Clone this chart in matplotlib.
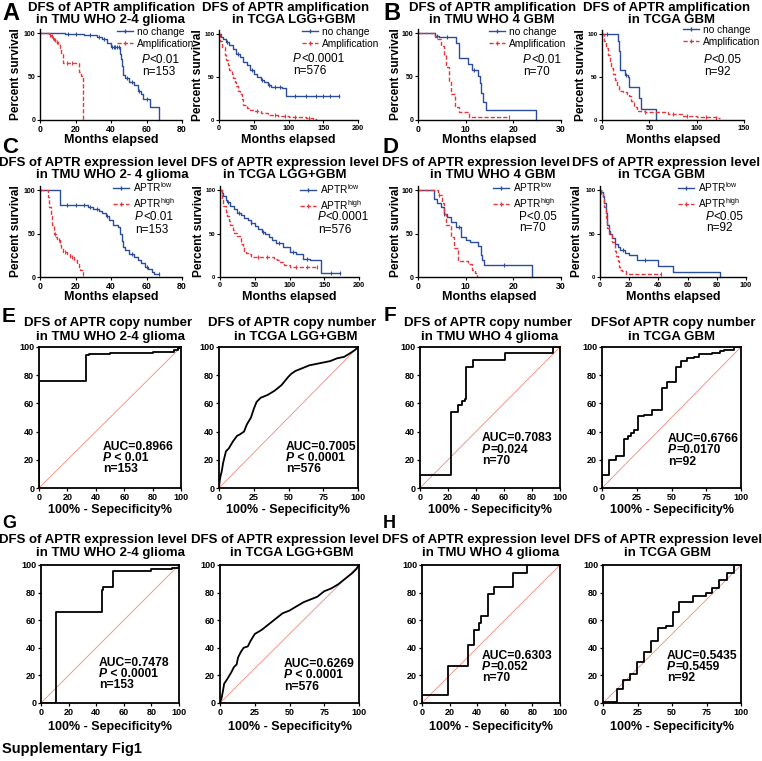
import numpy as np
import matplotlib
matplotlib.use('Agg')
import matplotlib.pyplot as plt
import matplotlib.transforms as mtransforms
from matplotlib.lines import Line2D

plt.rcParams['font.family'] = ['Liberation Sans', 'DejaVu Sans']
plt.rcParams['mathtext.fontset'] = 'custom'
plt.rcParams['mathtext.rm'] = 'Liberation Sans'
plt.rcParams['mathtext.it'] = 'Liberation Sans:italic'
plt.rcParams['mathtext.bf'] = 'Liberation Sans:bold'
plt.rcParams['mathtext.default'] = 'regular'

BLUE = '#2c4d9a'
RED = '#e8363c'

# ---- Kaplan-Meier data (months, percent survival) ----
# A: amplification, TMU WHO 2-4 glioma
A1_nc_t = [0, 14, 25, 32, 35, 38, 40, 45, 45.5, 46, 47, 48, 50, 53, 55, 57, 58, 62, 67]
A1_nc_s = [100, 99, 98, 95, 93, 88, 84, 76, 70, 62, 52, 48, 44, 40, 33, 30, 24, 15, 0]
A1_nc_c = [16, 20, 28, 33, 36, 40.5, 41.5, 42.5, 43.5, 44.5, 49, 52, 56, 60]
A1_amp_t = [0, 5, 6, 7, 8, 9, 10, 11, 12, 13, 22, 23, 24.5]
A1_amp_s = [100, 98, 96, 94, 92, 90, 87, 83, 77, 65, 55, 50, 0]
A1_amp_c = [5.5, 6.5, 7.5, 8.5, 9.5, 15, 18]
# A: amplification, TCGA LGG+GBM
A2_nc_t = [0, 3, 6, 10, 15, 20, 25, 30, 35, 40, 45, 50, 55, 60, 65, 70, 75, 85, 90, 97, 172]
A2_nc_s = [100, 97, 94, 91, 87, 82, 77, 73, 68, 64, 58, 53, 50, 47, 44, 41, 38, 38, 37, 28, 28]
A2_nc_c = [12, 28, 48, 62, 72, 80, 88, 110, 125, 140, 150, 160, 172]
A2_amp_t = [0, 2, 5, 8, 10, 13, 15, 18, 20, 23, 25, 28, 30, 33, 35, 40, 45, 50, 60, 70, 85, 100, 115, 125, 135, 140]
A2_amp_s = [100, 92, 85, 76, 70, 64, 58, 53, 49, 44, 40, 34, 30, 24, 18, 14, 12, 10, 8, 6, 5, 4, 3, 2, 1, 0]
A2_amp_c = [55, 80, 95, 110, 130]
# B: amplification, TMU WHO 4 GBM
B1_nc_t = [0, 3.5, 4.5, 8, 8.7, 10.5, 11.3, 12.5, 13, 13.3, 13.6, 14.2, 24.8]
B1_nc_s = [100, 97, 95, 88, 71, 64, 58, 50, 42, 31, 21, 11, 0]
B1_nc_c = [4, 6, 11.8]
B1_amp_t = [0, 3.5, 4, 4.9, 5.4, 5.9, 6.4, 7, 7.7, 8.5, 10.8, 19]
B1_amp_s = [100, 95, 93, 85, 75, 61, 45, 30, 15, 9, 4, 4]
B1_amp_c = [19]
# B: amplification, TCGA GBM
B2_nc_t = [0, 16.8, 18, 19.5, 24, 27, 29, 39.5, 41.5, 57]
B2_nc_s = [100, 92, 80, 58, 52, 50, 38, 25, 13, 0]
B2_nc_c = [5, 25]
B2_amp_t = [0, 2, 4, 6, 8, 10, 12, 14, 16, 18, 22, 26, 28, 31, 34, 37, 45, 65, 70, 85, 100, 120, 125]
B2_amp_s = [100, 92, 84, 76, 69, 60, 53, 46, 40, 34, 32, 30, 28, 22, 15, 10, 9, 9, 7, 5, 3.5, 2.5, 2.5]
B2_amp_c = [45, 75, 90, 110, 120]
# C: expression, TMU WHO 2-4 glioma
C1_lo_t = [0, 11, 27, 30, 33, 35, 37, 39, 41, 44, 45, 46, 47, 48, 50, 53, 55, 57, 59, 61, 63, 64, 67]
C1_lo_s = [100, 83, 80, 78, 76, 73, 70, 65, 60, 57, 50, 41, 34, 31, 27, 23, 19, 16, 12, 9, 6, 4, 4]
C1_lo_c = [15, 20, 25, 28, 32, 38, 52, 60, 67]
C1_hi_t = [0, 4.5, 5, 6, 6.6, 7.9, 9, 9.8, 11, 12, 13.2, 15, 17, 19, 20.7, 22, 22.6, 24]
C1_hi_s = [100, 92, 80, 70, 60, 49, 46, 43, 37, 33, 29, 26, 23, 19, 15, 11, 8, 4]
C1_hi_c = [8.5, 10.5, 14, 18, 24]
# C: expression, TCGA LGG+GBM
C2_lo_t = [0, 3, 5, 8, 10, 15, 20, 25, 30, 35, 40, 45, 50, 55, 60, 65, 70, 75, 80, 90, 100, 110, 120, 130, 145, 172]
C2_lo_s = [100, 96, 93, 89, 86, 82, 78, 74, 71, 68, 66, 62, 59, 55, 52, 49, 46, 42, 39, 35, 29, 26, 21, 19, 5, 5]
C2_lo_c = [12, 28, 45, 62, 85, 105, 125, 160, 172]
C2_hi_t = [0, 3, 5, 8, 10, 13, 15, 18, 20, 25, 30, 33, 35, 38, 41, 45, 75, 78, 82, 86, 92, 100, 140]
C2_hi_s = [100, 88, 82, 75, 70, 64, 60, 54, 51, 47, 38, 34, 30, 28, 27, 23, 23, 21, 19, 17, 14, 12, 12]
C2_hi_c = [55, 68, 110, 125, 140]
# D: expression, TMU WHO 4 GBM
D1_lo_t = [0, 3.4, 4, 4.8, 5.4, 6, 7, 7.9, 9, 10, 11, 12.5, 13.2, 13.5, 13.9, 24]
D1_lo_s = [100, 90, 85, 80, 72, 69, 63, 58, 46, 43, 40, 36, 25, 20, 14, 0]
D1_lo_c = [5.5, 8.5, 18]
D1_hi_t = [0, 4.3, 5, 5.5, 5.8, 6.9, 7.5, 8.3, 10.5, 11.3, 12, 12.4]
D1_hi_s = [100, 94, 85, 72, 60, 46, 33, 18, 15, 8, 5, 0]
D1_hi_c = [4.5]
# D: expression, TCGA GBM
D2_lo_t = [0, 1, 2, 3, 4, 5, 6, 7, 8, 10, 12, 14, 17, 20, 25, 40, 50, 82]
D2_lo_s = [100, 98, 93, 85, 74, 60, 53, 49, 45, 38, 35, 31, 28, 25, 20, 13, 6, 0]
D2_lo_c = [1, 16, 31]
D2_hi_t = [0, 1, 2, 3, 4, 5, 6, 8, 10, 11, 12, 13, 14, 15, 18, 42]
D2_hi_s = [100, 96, 90, 80, 68, 56, 50, 40, 30, 24, 18, 12, 8, 7, 4, 4]
D2_hi_c = [42]

# ---- ROC data (100% - specificity, sensitivity) ----
E1_fpr = [0, 0, 33, 35, 50, 60, 80, 95, 98, 100]
E1_tpr = [0, 76, 94, 95, 95.5, 96, 96.5, 98, 99, 100]
E2_fpr = [0, 0.5, 1, 2, 3, 4, 5, 7, 10, 13, 15, 18, 20, 23, 25, 27, 30, 35, 40, 45, 50, 52, 55, 60, 65, 70, 75, 80, 85, 90, 95, 98, 100]
E2_tpr = [0, 5, 8, 12, 18, 22, 26, 28, 33, 37, 38, 40, 45, 50, 56, 61, 64, 66, 69, 73, 79, 81, 83, 85, 87, 88, 89, 90, 92, 93, 96, 98, 100]
F1_fpr = [0, 0, 22, 27, 30, 32, 33, 38, 61, 95, 100]
F1_tpr = [0, 9, 54, 59, 62, 63, 86, 91, 95.5, 100, 100]
F2_fpr = [0, 0, 5, 10, 16, 19, 21, 23, 26, 30, 36, 43, 47, 53, 57, 61, 66, 70, 79, 85, 88, 95, 100]
F2_tpr = [0, 9, 20, 23, 35, 37, 39, 41, 51, 52, 55, 71, 75, 86, 90, 92, 93, 95, 96, 97, 98, 100, 100]
G1_fpr = [0, 11, 44, 45, 52, 80, 95, 100]
G1_tpr = [0, 66, 82, 84, 96, 97, 98, 100]
G2_fpr = [0, 1, 2, 3, 5, 8, 10, 12, 13, 15, 17, 20, 22, 25, 30, 35, 40, 45, 50, 55, 60, 65, 70, 75, 80, 85, 90, 95, 98, 100]
G2_tpr = [0, 3, 8, 14, 17, 22, 26, 28, 33, 37, 40, 41, 45, 50, 53, 57, 61, 65, 67, 70, 73, 75, 77, 81, 83, 86, 90, 94, 97, 100]
H1_fpr = [0, 0, 19, 33, 38, 41, 43, 48, 52, 66, 76, 100]
H1_tpr = [0, 5.5, 26.5, 42, 53, 58, 63, 79, 84, 94.5, 100, 100]
H2_fpr = [0, 0, 10.4, 14.7, 19.3, 24.8, 29.6, 35, 40, 45.3, 50.6, 55, 65, 74.7, 78.8, 84.3, 90, 95.2, 100]
H2_tpr = [0, 1, 10.4, 16.4, 21, 29.4, 37.3, 44.6, 54.2, 56, 66.3, 73, 77.6, 79.5, 83, 89, 94, 100, 100]

amp_labels = ['no change', 'Amplification']
expr_labels = ['APTR$^{low}$', 'APTR$^{high}$']

W, H = 762, 761
fig = plt.figure(figsize=(W / 100, H / 100), dpi=100)


def fx(x):
    return x / W


def fy(y):
    return 1 - y / H


def bold_ticks(ax):
    for lab in ax.get_xticklabels() + ax.get_yticklabels():
        lab.set_fontweight('bold')


def km_axes(x0, x1, y100, y0, xmax, xticks, xts, yts, ylab_x, xlab_y):
    ytop = y0 - (y0 - y100) * 1.05
    ax = fig.add_axes([fx(x0), fy(y0), (x1 - x0) / W, (y0 - ytop) / H])
    ax.set_xlim(0, xmax)
    ax.set_ylim(0, 105)
    ax.set_xticks(xticks)
    ax.set_yticks([0, 50, 100])
    for s in ['top', 'right']:
        ax.spines[s].set_visible(False)
    for s in ['left', 'bottom']:
        ax.spines[s].set_linewidth(1.0)
    ax.tick_params(direction='out', length=2.5, width=0.8, pad=0.8)
    ax.tick_params(axis='x', labelsize=xts)
    ax.tick_params(axis='y', labelsize=yts)
    bold_ticks(ax)
    ax.set_xlabel('Months elapsed', fontsize=9, fontweight='bold', va='center')
    ax.xaxis.set_label_coords(0.5, fy(xlab_y),
                              transform=mtransforms.blended_transform_factory(ax.transAxes, fig.transFigure))
    ax.set_ylabel('Percent survival', fontsize=8.6, fontweight='bold', va='center')
    ax.yaxis.set_label_coords(fx(ylab_x), 0.5,
                              transform=mtransforms.blended_transform_factory(fig.transFigure, ax.transAxes))
    return ax


def km_curve(ax, t, s, cens, color, dashed):
    ls = (0, (3, 1.5)) if dashed else '-'
    ax.step(t, s, where='post', color=color, lw=1.0, ls=ls, clip_on=False)
    t = np.asarray(t)
    s = np.asarray(s)
    idx = np.searchsorted(t, cens, side='right') - 1
    ax.plot(cens, s[idx], ls='none', marker='|', ms=3, mew=0.8, color=color, clip_on=False)


def km_legend(ax, x, y, labels):
    handles = [Line2D([], [], color=BLUE, lw=1, marker='|', ms=3),
               Line2D([], [], color=RED, lw=1, ls=(0, (3, 1.5)), marker='|', ms=3)]
    ax.legend(handles, labels, loc='upper left', bbox_to_anchor=(fx(x), fy(y)),
              bbox_transform=fig.transFigure, frameon=False, fontsize=7.3,
              handlelength=1.6, handletextpad=0.35, borderpad=0, borderaxespad=0,
              labelspacing=0.2)


def p_text(ax, x, y, rest, size, bold=False, italic=True):
    w = 'bold' if bold else 'normal'
    if italic:
        t1 = fig.text(fx(x), fy(y), 'P', fontsize=size, fontweight=w, fontstyle='italic',
                      va='center', ha='left')
        ax.annotate(rest, xy=(1, 0.5), xycoords=t1, fontsize=size, fontweight=w,
                    va='center', ha='left')
    else:
        fig.text(fx(x), fy(y), 'P' + rest, fontsize=size, fontweight=w, va='center', ha='left')


def n_text(x, y, s, size, bold=False):
    fig.text(fx(x), fy(y), s, fontsize=size, fontweight='bold' if bold else 'normal',
             va='center', ha='left')


def roc_axes(x0, x1, y100, y0, xticks, xlab_y):
    ax = fig.add_axes([fx(x0), fy(y0), (x1 - x0) / W, (y0 - y100) / H])
    ax.set_xlim(0, 100)
    ax.set_ylim(0, 100)
    ax.set_xticks(xticks)
    ax.set_yticks([0, 20, 40, 60, 80, 100])
    for s in ax.spines.values():
        s.set_linewidth(1.3)
    ax.plot([0, 100], [0, 100], color='#f08a7c', lw=0.6)
    ax.tick_params(direction='out', length=2.5, width=0.9, pad=1, labelsize=6.5)
    bold_ticks(ax)
    ax.set_xlabel('100% - Sepecificity%', fontsize=9, fontweight='bold', va='center')
    ax.xaxis.set_label_coords(0.5, fy(xlab_y),
                              transform=mtransforms.blended_transform_factory(ax.transAxes, fig.transFigure))
    return ax


def title(cx1, cx2, y1, y2, line1, line2):
    fig.text(fx(cx1), fy(y1), line1, ha='center', va='center', fontsize=9.5, fontweight='bold')
    fig.text(fx(cx2), fy(y2), line2, ha='center', va='center', fontsize=9.5, fontweight='bold')


# ---------------- Row A / B ----------------
ax = km_axes(40, 182, 33, 120, 80, [0, 20, 40, 60, 80], 6.3, 5, 16, 140)
km_curve(ax, A1_nc_t, A1_nc_s, A1_nc_c, BLUE, False)
km_curve(ax, A1_amp_t, A1_amp_s, A1_amp_c, RED, True)
km_legend(ax, 117, 27, amp_labels)
p_text(ax, 142, 60, '<0.01', 8.5)
n_text(142, 72, 'n=153', 8.5)
title(112, 110, 8, 20, 'DFS of APTR amplification', 'in TMU WHO 2-4 glioma')

ax = km_axes(219, 358, 34, 120, 200, [0, 50, 100, 150, 200], 5.3, 4.3, 198, 140)
km_curve(ax, A2_nc_t, A2_nc_s, A2_nc_c, BLUE, False)
km_curve(ax, A2_amp_t, A2_amp_s, A2_amp_c, RED, True)
km_legend(ax, 302, 27, amp_labels)
p_text(ax, 293, 59, '<0.0001', 8.5)
n_text(293, 71, 'n=576', 8.5)
title(286, 294, 8, 20, 'DFS of APTR amplification', 'in TCGA LGG+GBM')

ax = km_axes(418, 561, 33, 120, 30, [0, 10, 20, 30], 6.3, 5, 396, 140)
km_curve(ax, B1_nc_t, B1_nc_s, B1_nc_c, BLUE, False)
km_curve(ax, B1_amp_t, B1_amp_s, B1_amp_c, RED, True)
km_legend(ax, 489, 27, amp_labels)
p_text(ax, 523, 60, '<0.01', 8.5)
n_text(523, 72, 'n=70', 8.5)
title(493, 492, 8, 20, 'DFS of APTR amplification', 'in TMU WHO 4 GBM')

ax = km_axes(602, 744, 34, 120, 150, [0, 50, 100, 150], 5.3, 4.3, 581, 140)
km_curve(ax, B2_nc_t, B2_nc_s, B2_nc_c, BLUE, False)
km_curve(ax, B2_amp_t, B2_amp_s, B2_amp_c, RED, True)
km_legend(ax, 683, 25, amp_labels)
p_text(ax, 704, 60, '<0.05', 8.5)
n_text(704, 72, 'n=92', 8.5)
title(667, 671, 8, 20, 'DFS of APTR amplification', 'in TCGA GBM')

# ---------------- Row C / D ----------------
ax = km_axes(40, 182, 190, 277, 80, [0, 20, 40, 60, 80], 6.3, 5, 16, 297)
km_curve(ax, C1_lo_t, C1_lo_s, C1_lo_c, BLUE, False)
km_curve(ax, C1_hi_t, C1_hi_s, C1_hi_c, RED, True)
km_legend(ax, 113, 180, expr_labels)
p_text(ax, 135, 217, '<0.01', 8.5)
n_text(135, 230, 'n=153', 8.5)
title(93, 112, 163, 175, 'DFS of APTR expression level', 'in TMU WHO 2- 4 glioma')

ax = km_axes(220, 359, 190, 277, 200, [0, 50, 100, 150, 200], 5.3, 4.3, 199, 297)
km_curve(ax, C2_lo_t, C2_lo_s, C2_lo_c, BLUE, False)
km_curve(ax, C2_hi_t, C2_hi_s, C2_hi_c, RED, True)
km_legend(ax, 300, 182, expr_labels)
p_text(ax, 318, 217, '<0.0001', 8.5)
n_text(318, 230, 'n=576', 8.5)
title(285, 285, 163, 175, 'DFS of APTR expression level', 'in TCGA LGG+GBM')

ax = km_axes(418, 561, 190, 277, 30, [0, 10, 20, 30], 6.3, 5, 396, 297)
km_curve(ax, D1_lo_t, D1_lo_s, D1_lo_c, BLUE, False)
km_curve(ax, D1_hi_t, D1_hi_s, D1_hi_c, RED, True)
km_legend(ax, 493, 180, expr_labels)
p_text(ax, 519, 217, '<0.05', 8.5, italic=False)
n_text(519, 228, 'n=70', 8.5)
title(476, 493, 163, 175, 'DFS of APTR expression level', 'in TMU WHO 4 GBM')

ax = km_axes(600, 746, 190, 277, 100, [0, 20, 40, 60, 80, 100], 5.3, 4.3, 577, 297)
km_curve(ax, D2_lo_t, D2_lo_s, D2_lo_c, BLUE, False)
km_curve(ax, D2_hi_t, D2_hi_s, D2_hi_c, RED, True)
km_legend(ax, 678, 180, expr_labels)
p_text(ax, 706, 217, '<0.05', 8.5)
n_text(706, 228, 'n=92', 8.5)
title(666, 661, 163, 175, 'DFS of APTR expression level', 'in TCGA GBM')

# ---------------- Row E / F ----------------
ax = roc_axes(39, 181, 347, 488, [0, 20, 40, 60, 80, 100], 510)
ax.plot(E1_fpr, E1_tpr, color='black', lw=1.3, drawstyle='steps-post')
n_text(103, 447, 'AUC=0.8966', 8.7, True)
p_text(ax, 103, 458, ' < 0.01', 8.7, bold=True)
n_text(103, 469, 'n=153', 8.7, True)
title(108, 110, 323, 337, 'DFS of APTR copy number', 'in TMU WHO 2-4 glioma')

ax = roc_axes(219, 358, 347, 488, [0, 25, 50, 75, 100], 510)
ax.plot(E2_fpr, E2_tpr, color='black', lw=1.3)
n_text(286, 447, 'AUC=0.7005', 8.7, True)
p_text(ax, 286, 458, ' < 0.0001', 8.7, bold=True)
n_text(286, 469, 'n=576', 8.7, True)
title(292, 296, 323, 337, 'DFS of APTR copy number', 'in TCGA LGG+GBM')

ax = roc_axes(420, 560, 347, 488, [0, 20, 40, 60, 80, 100], 510)
ax.plot(F1_fpr, F1_tpr, color='black', lw=1.3, drawstyle='steps-post')
n_text(482, 438, 'AUC=0.7083', 8.7, True)
p_text(ax, 482, 450, '=0.024', 8.7, bold=True)
n_text(482, 461, 'n=70', 8.7, True)
title(488, 490, 323, 337, 'DFS of APTR copy number', 'in TMU WHO 4 glioma')

ax = roc_axes(602, 741, 347, 488, [0, 25, 50, 75, 100], 510)
ax.plot(F2_fpr, F2_tpr, color='black', lw=1.3, drawstyle='steps-post')
n_text(668, 439, 'AUC=0.6766', 8.7, True)
p_text(ax, 668, 450, '=0.0170', 8.7, bold=True)
n_text(668, 462, 'n=92', 8.7, True)
title(673, 672, 323, 337, 'DFSof APTR copy number', 'in TCGA GBM')

# ---------------- Row G / H ----------------
ax = roc_axes(41, 179, 565, 703, [0, 20, 40, 60, 80, 100], 727)
ax.plot(G1_fpr, G1_tpr, color='black', lw=1.3, drawstyle='steps-post')
n_text(99, 663, 'AUC=0.7478', 8.7, True)
p_text(ax, 99, 674, ' < 0.0001', 8.7, bold=True)
n_text(99, 685, 'n=153', 8.7, True)
title(93, 110, 540, 553, 'DFS of APTR expression level', 'in TMU WHO 2-4 glioma')

ax = roc_axes(220, 359, 565, 703, [0, 25, 50, 75, 100], 727)
ax.plot(G2_fpr, G2_tpr, color='black', lw=1.3)
n_text(284, 664, 'AUC=0.6269', 8.7, True)
p_text(ax, 284, 675, ' < 0.0001', 8.7, bold=True)
n_text(284, 687, 'n=576', 8.7, True)
title(285, 292, 540, 553, 'DFS of APTR expression level', 'in TCGA LGG+GBM')

ax = roc_axes(422, 560, 565, 703, [0, 20, 40, 60, 80, 100], 727)
ax.plot(H1_fpr, H1_tpr, color='black', lw=1.3, drawstyle='steps-post')
n_text(482, 656, 'AUC=0.6303', 8.7, True)
p_text(ax, 482, 667, '=0.052', 8.7, bold=True)
n_text(482, 678, 'n=70', 8.7, True)
title(476, 491, 540, 553, 'DFS of APTR expression level', 'in TMU WHO 4 glioma')

ax = roc_axes(603, 741, 565, 703, [0, 25, 50, 75, 100], 727)
ax.plot(H2_fpr, H2_tpr, color='black', lw=1.3, drawstyle='steps-post')
n_text(667, 656, 'AUC=0.5435', 8.7, True)
p_text(ax, 667, 667, '=0.5459', 8.7, bold=True)
n_text(667, 678, 'n=92', 8.7, True)
title(668, 667, 540, 553, 'DFS of APTR expression level', 'in TCGA GBM')

# panel letters
for letter, x, y, size in [('A', 2, 20, 17), ('B', 383, 20, 17), ('C', 2, 153, 16), ('D', 383, 153, 16),
                           ('E', 2, 322, 15), ('F', 384, 321, 15), ('G', 2, 528, 13), ('H', 383, 528, 13)]:
    fig.text(fx(x), fy(y), letter, fontsize=size, fontweight='bold', va='baseline', ha='left')

fig.text(fx(2), fy(753), 'Supplementary Fig1', fontsize=10.5, fontweight='bold', va='baseline', ha='left')

fig.savefig('out.png', dpi=100)
